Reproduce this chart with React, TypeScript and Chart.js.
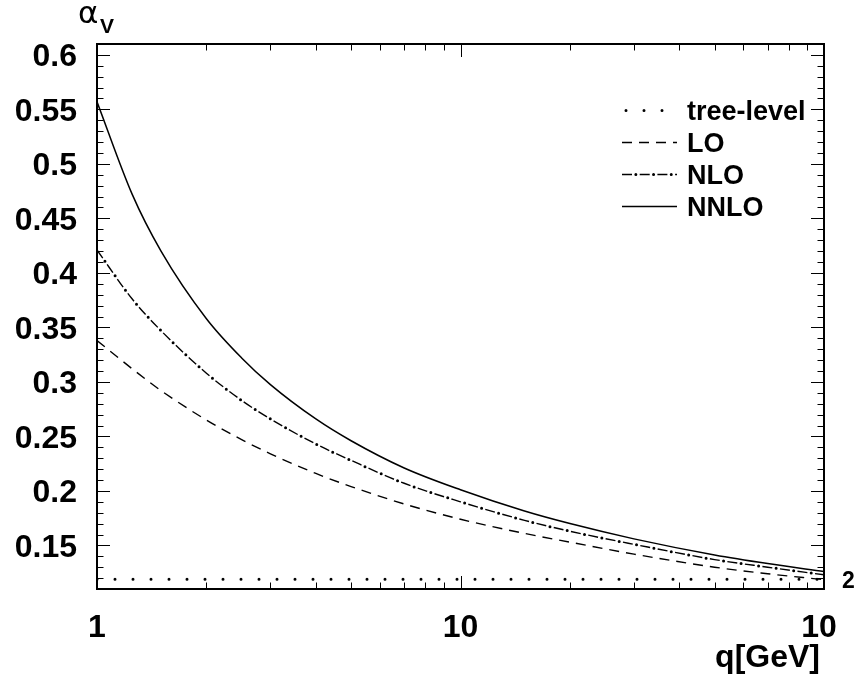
import React, { useEffect, useRef } from "react";
import { Chart, registerables } from "chart.js";

Chart.register(...registerables);

// ---- data ----
const qValues = [1, 1.25, 1.5, 2, 2.5, 3, 4, 5, 7, 10, 15, 20, 30, 50, 70, 100];
const treeLevel = [0.119, 0.119, 0.119, 0.119, 0.119, 0.119, 0.119, 0.119, 0.119, 0.119, 0.119, 0.119, 0.119, 0.119, 0.119, 0.119];
const lo = [0.338, 0.312, 0.292, 0.265, 0.247, 0.234, 0.216, 0.204, 0.188, 0.174, 0.161, 0.153, 0.142, 0.130, 0.124, 0.1185];
const nlo = [0.421, 0.376, 0.347, 0.308, 0.283, 0.266, 0.243, 0.228, 0.207, 0.190, 0.173, 0.163, 0.151, 0.137, 0.130, 0.123];
const nnlo = [0.557, 0.472, 0.420, 0.358, 0.322, 0.2975, 0.266, 0.246, 0.221, 0.201, 0.1815, 0.170, 0.156, 0.1412, 0.1333, 0.126];

const legendLabels = ["tree-level", "LO", "NLO", "NNLO"];
const yTickValues = [0.15, 0.2, 0.25, 0.3, 0.35, 0.4, 0.45, 0.5, 0.55, 0.6];
const yTickLabels = ["0.15", "0.2", "0.25", "0.3", "0.35", "0.4", "0.45", "0.5", "0.55", "0.6"];
const xMajorValues = [1, 10, 100];
const xMinorValues = [2, 3, 4, 5, 6, 7, 8, 9, 20, 30, 40, 50, 60, 70, 80, 90];
const xLabelValues = [1, 10];
const xLabels = ["1", "10"];
const xAxisTitle = "q[GeV]";

const Y_MIN = 0.11;
const Y_MAX = 0.61;

const W = 864;
const H = 677;

const FONT = "'Liberation Sans', Arial, Helvetica, sans-serif";

const styles = {
  tree: { dash: [0, 18], width: 3, cap: "round" as CanvasLineCap },
  lo: { dash: [10, 7], width: 1.4, cap: "butt" as CanvasLineCap },
  nloDash: { dash: [10, 7.7], width: 1.4, cap: "butt" as CanvasLineCap },
  nloDot: { dash: [0, 17.7], width: 3, cap: "round" as CanvasLineCap, offset: 3.85 },
  nnlo: { dash: [] as number[], width: 1.5, cap: "butt" as CanvasLineCap },
};

function pts(ys: number[]) {
  return qValues.map((q, i) => ({ x: q, y: ys[i] }));
}

const rootPlugin = {
  id: "rootStyle",
  beforeDraw(chart: any) {
    const ctx = chart.ctx as CanvasRenderingContext2D;
    ctx.save();
    ctx.fillStyle = "#fff";
    ctx.fillRect(0, 0, chart.width, chart.height);
    ctx.restore();
  },
  afterDraw(chart: any) {
    const ctx = chart.ctx as CanvasRenderingContext2D;
    const a = chart.chartArea;
    const xs = chart.scales.x;
    const ys = chart.scales.y;
    ctx.save();
    ctx.strokeStyle = "#000";
    ctx.fillStyle = "#000";

    const line = (x1: number, y1: number, x2: number, y2: number) => {
      ctx.beginPath();
      ctx.moveTo(x1, y1);
      ctx.lineTo(x2, y2);
      ctx.stroke();
    };

    // ticks (inside the frame, ROOT style)
    ctx.lineWidth = 1;
    for (let i = 11; i <= 61; i++) {
      const v = i / 100;
      const y = Math.round(ys.getPixelForValue(v)) + 0.5;
      const len = i % 5 === 0 ? 13 : 6.5;
      line(a.left, y, a.left + len, y);
      line(a.right, y, a.right - len, y);
    }
    const xt = (vals: number[], len: number) => {
      for (const v of vals) {
        const x = Math.round(xs.getPixelForValue(v)) + 0.5;
        line(x, a.bottom, x, a.bottom - len);
        line(x, a.top, x, a.top + len);
      }
    };
    xt(xMajorValues, 13);
    xt(xMinorValues, 6.5);

    // frame
    ctx.lineWidth = 2;
    ctx.strokeRect(a.left, a.top, a.right - a.left, a.bottom - a.top);

    // y labels
    ctx.font = `bold 32px ${FONT}`;
    ctx.textAlign = "right";
    ctx.textBaseline = "alphabetic";
    yTickValues.forEach((v, i) => {
      const y = ys.getPixelForValue(v);
      ctx.fillText(yTickLabels[i], 77, y + 11.5);
    });

    // x labels
    ctx.textAlign = "center";
    xLabelValues.forEach((v, i) => {
      const x = xs.getPixelForValue(v);
      ctx.fillText(xLabels[i], x, 637);
    });
    // 10^2 label
    const x100 = xs.getPixelForValue(100);
    ctx.fillText("10", x100 - 5, 637);
    ctx.font = `bold 23px ${FONT}`;
    ctx.textAlign = "left";
    ctx.fillText("2", x100 + 18, 588);

    // x title
    ctx.font = `bold 32px ${FONT}`;
    ctx.textAlign = "right";
    ctx.fillText(xAxisTitle, 820, 667);

    // y title alpha_V
    ctx.textAlign = "left";
    ctx.font = `31px 'DejaVu Sans', sans-serif`;
    ctx.fillText("\u03B1", 78, 23);
    ctx.font = `bold 21px ${FONT}`;
    ctx.fillText("V", 100, 33);

    // legend
    const legendStyles = [[styles.tree], [styles.lo], [styles.nloDash, styles.nloDot], [styles.nnlo]];
    const baselines = [120, 152, 184, 216];
    ctx.font = `bold 27px ${FONT}`;
    legendLabels.forEach((lab, i) => {
      const by = baselines[i];
      const ly = by - 9.5;
      for (const s of legendStyles[i]) {
        ctx.save();
        ctx.lineWidth = s.width;
        ctx.lineCap = s.cap;
        ctx.setLineDash(s.dash);
        ctx.lineDashOffset = (s as any).offset || 0;
        line(i === 0 ? 626 : 622, ly, 677, ly);
        ctx.restore();
      }
      ctx.fillText(lab, 687, by);
    });

    ctx.restore();
  },
};

export default function App() {
  const ref = useRef<HTMLCanvasElement | null>(null);
  useEffect(() => {
    document.body.style.margin = "0";
    const canvas = ref.current;
    if (!canvas) return;
    const mk = (label: string, ys: number[], s: any) => ({
      label,
      data: pts(ys),
      borderColor: "#000",
      backgroundColor: "#000",
      borderWidth: s.width,
      borderDash: s.dash,
      borderDashOffset: s.offset || 0,
      borderCapStyle: s.cap,
      pointRadius: 0,
      fill: false,
      cubicInterpolationMode: "monotone",
    });
    const chart = new Chart(canvas, {
      type: "line",
      data: {
        datasets: [
          mk(legendLabels[0], treeLevel, styles.tree),
          mk(legendLabels[1], lo, styles.lo),
          mk(legendLabels[2], nlo, styles.nloDash),
          mk(legendLabels[2] + " dots", nlo, styles.nloDot),
          mk(legendLabels[3], nnlo, styles.nnlo),
        ] as any,
      },
      options: {
        responsive: false,
        animation: false,
        layout: { padding: { left: 97, top: 44, right: 40, bottom: 88 } },
        plugins: { legend: { display: false }, tooltip: { enabled: false } },
        scales: {
          x: { type: "logarithmic", min: 1, max: 100, display: false },
          y: { type: "linear", min: Y_MIN, max: Y_MAX, display: false },
        },
      },
      plugins: [rootPlugin],
    });
    return () => chart.destroy();
  }, []);
  return (
    <div style={{ position: "absolute", left: 0, top: 0, width: W, height: H }}>
      <canvas ref={ref} width={W} height={H} style={{ width: W, height: H, display: "block" }} />
    </div>
  );
}
